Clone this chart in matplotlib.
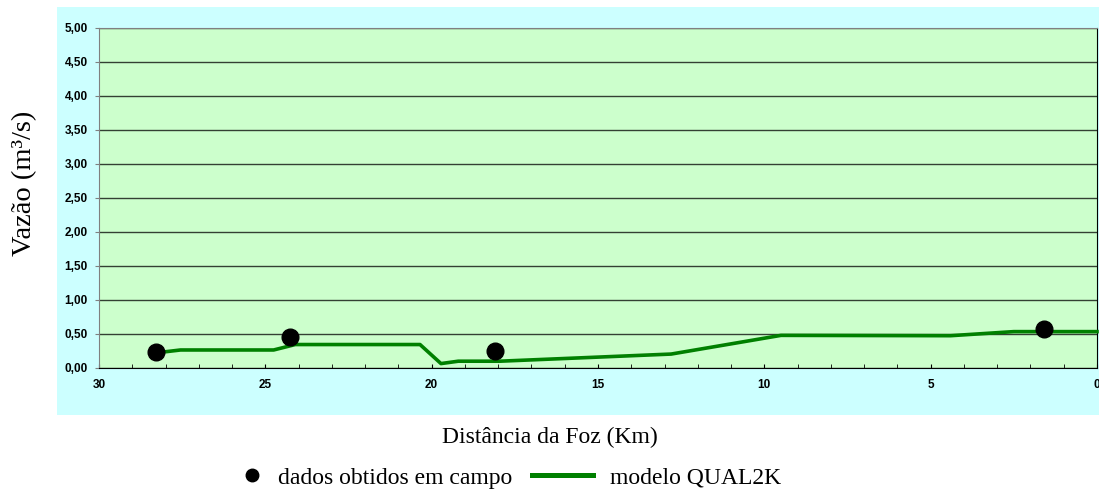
import numpy as np
import matplotlib.pyplot as plt
from matplotlib.patches import Rectangle
from matplotlib.lines import Line2D
from matplotlib.ticker import FuncFormatter, MultipleLocator

# field measurements
dist_obs = [28.3, 24.25, 18.1, 1.6]
vazao_obs = [0.23, 0.46, 0.25, 0.57]

# QUAL2K model
dist_mod = [28.07, 27.55, 24.75, 24.1, 20.35, 19.72, 19.2, 17.95, 12.8, 9.5, 4.4, 2.5, 0.0]
vazao_mod = [0.235, 0.265, 0.265, 0.345, 0.345, 0.065, 0.10, 0.10, 0.205, 0.48, 0.475, 0.535, 0.535]

fig = plt.figure(figsize=(10.99, 4.99), dpi=100)

# cyan chart panel behind the plot area
fig.patches.append(Rectangle((57 / 1099, 1 - 415 / 499), 1 - 57 / 1099, (415 - 7) / 499,
                             transform=fig.transFigure, facecolor="#CCFFFF",
                             edgecolor="none", zorder=-1))

ax = fig.add_axes([99 / 1099, 1 - 368 / 499, 998 / 1099, 340 / 499])
ax.set_facecolor("#CCFFCC")

ax.plot(dist_mod, vazao_mod, color="#008000", lw=2.6, solid_joinstyle="round",
        zorder=3, clip_on=False)
ax.plot(dist_obs, vazao_obs, "o", color="black", ms=12, zorder=4, clip_on=False)

ax.set_xlim(30, 0)
ax.set_ylim(0, 5)
ax.yaxis.set_major_locator(MultipleLocator(0.5))
ax.xaxis.set_major_locator(MultipleLocator(5))
ax.xaxis.set_minor_locator(MultipleLocator(1))
ax.yaxis.set_major_formatter(FuncFormatter(lambda v, p: f"{v:.2f}".replace(".", ",")))
ax.xaxis.set_major_formatter(FuncFormatter(lambda v, p: f"{v:.0f}"))
ax.grid(axis="y", color="black", lw=1, alpha=0.75)
ax.set_axisbelow(True)

for t in ax.get_xticklabels() + ax.get_yticklabels():
    t.set_fontfamily("Liberation Sans")
    t.set_fontweight("bold")
    t.set_fontsize(8.5)
ax.tick_params(axis="x", which="both", direction="in", length=3, pad=8, color="black")
ax.tick_params(axis="y", direction="out", length=3, pad=5, color="gray")

for s in ["left", "top"]:
    ax.spines[s].set_color("gray")
ax.spines["right"].set_color("black")
ax.spines["bottom"].set_color("black")

serif = {"family": "Liberation Serif", "size": 17}
fig.text(25 / 1099, 1 - 183 / 499, "Vazão (m³/s)", rotation=90, ha="center", va="center",
         fontfamily="Liberation Serif", fontsize=20.5)
fig.text(0.5, 1 - 437 / 499, "Distância da Foz (Km)", ha="center", va="center",
         fontfamily="Liberation Serif", fontsize=17)

# legend, two separate entries
h_obs = Line2D([], [], ls="none", marker="o", color="black", ms=9)
h_mod = Line2D([], [], color="#008000", lw=3.6)
leg1 = fig.legend([h_obs], ["dados obtidos em campo"], loc="center left",
                  bbox_to_anchor=(246 / 1099, 1 - 478 / 499), frameon=False, prop=serif,
                  handlelength=0.5, handletextpad=0.85, borderpad=0, borderaxespad=0)
leg2 = fig.legend([h_mod], ["modelo QUAL2K"], loc="center left",
                  bbox_to_anchor=(532 / 1099, 1 - 478 / 499), frameon=False, prop=serif,
                  handlelength=2.6, handletextpad=0.72, borderpad=0, borderaxespad=0)

fig.savefig("out.png", dpi=100)
